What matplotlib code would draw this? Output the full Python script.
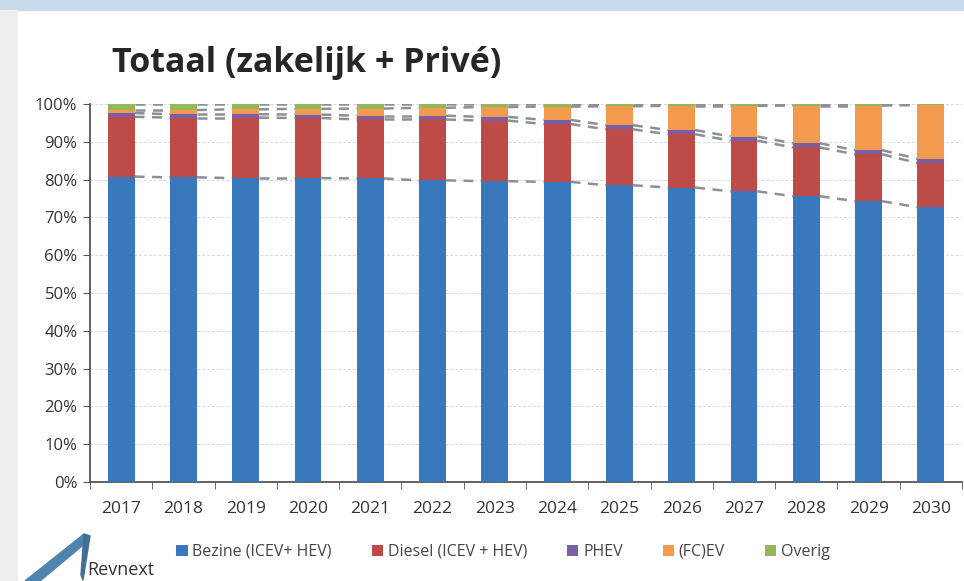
import matplotlib

matplotlib.use("Agg")
import matplotlib.pyplot as plt
import numpy as np
from matplotlib.patches import Polygon, Rectangle

plt.rcParams["font.family"] = ["Open Sans", "DejaVu Sans"]

years = ["2017", "2018", "2019", "2020", "2021", "2022", "2023",
         "2024", "2025", "2026", "2027", "2028", "2029", "2030"]
benzine = [80.8, 80.6, 80.4, 80.4, 80.3, 79.8, 79.6, 79.4, 78.5, 77.9, 76.9, 75.6, 74.3, 72.7]
diesel = [15.8, 15.8, 16.0, 15.9, 15.6, 16.1, 16.0, 15.3, 14.8, 14.1, 13.4, 12.9, 12.4, 11.7]
phev = [1.0, 0.9, 0.9, 0.9, 1.0, 1.0, 1.0, 1.1, 1.1, 1.1, 1.1, 1.1, 1.1, 1.1]
fcev = [0.8, 1.1, 1.3, 1.5, 1.9, 2.1, 2.6, 3.5, 5.0, 6.4, 8.1, 10.0, 11.8, 14.2]
overig = [1.6, 1.6, 1.4, 1.3, 1.2, 1.0, 0.8, 0.7, 0.6, 0.5, 0.5, 0.4, 0.4, 0.3]

series = [
    ("Bezine (ICEV+ HEV)", benzine, "#3a78bd"),
    ("Diesel (ICEV + HEV)", diesel, "#bd4b48"),
    ("PHEV", phev, "#7a5fa8"),
    ("(FC)EV", fcev, "#f39a4f"),
    ("Overig", overig, "#93b85a"),
]

fig = plt.figure(figsize=(9.64, 5.81), dpi=100)
fig.patch.set_facecolor("white")
# photo border: blue band on top, grey strip on the left
fig.patches.append(Rectangle((0, 0.982), 1, 0.018, transform=fig.transFigure,
                             color="#c7dbeb", zorder=0))
fig.patches.append(Rectangle((0, 0), 0.018, 0.982, transform=fig.transFigure,
                             color="#eceff2", zorder=0))

ax = fig.add_axes([90 / 964, 1 - 482 / 581, 872 / 964, 378 / 581])
x = np.arange(len(years))
width = 0.43
bottom = np.zeros(len(years))
tops = []
for label, vals, color in series:
    vals = np.array(vals) / 100
    ax.bar(x, vals, width, bottom=bottom, color=color, label=label, zorder=3)
    bottom = bottom + vals
    tops.append(bottom.copy())

# series lines between bars
for top in tops:
    for i in range(len(years) - 1):
        ax.plot([x[i] + width / 2, x[i + 1] - width / 2], [top[i], top[i + 1]],
                color="#8a9097", linestyle=(0, (4, 3)), linewidth=1.8, zorder=2)

ax.set_xlim(-0.5, len(years) - 0.5)
ax.set_ylim(0, 1)
ax.set_yticks(np.arange(0, 1.01, 0.1))
ax.set_yticklabels([f"{int(v)}%" for v in np.arange(0, 101, 10)], fontsize=12, color="#333333")
ax.set_xticks(x)
ax.set_xticklabels(years, fontsize=12.5, color="#333333")
ax.set_xticks(np.arange(-0.5, len(years)), minor=True)
ax.tick_params(axis="x", which="major", length=0, pad=14)
ax.tick_params(axis="x", which="minor", length=5, color="#555555", direction="out")
ax.tick_params(axis="y", length=5, color="#555555", direction="out", pad=4)
ax.grid(axis="y", color="#d9d9d9", linestyle=(0, (3, 2)), linewidth=0.7, zorder=0)
for side in ["top", "right"]:
    ax.spines[side].set_visible(False)
ax.spines["left"].set_color("#555555")
ax.spines["bottom"].set_color("#555555")
ax.spines["left"].set_linewidth(1.3)
ax.spines["bottom"].set_linewidth(1.3)

fig.text(112 / 964, 1 - 63 / 581, "Totaal (zakelijk + Privé)", fontsize=24.5,
         fontweight="bold", color="#262626", va="center", ha="left")

handles, labels = ax.get_legend_handles_labels()
fig.legend(handles, labels, loc="center", bbox_to_anchor=(503 / 964, 1 - 552 / 581),
           ncol=5, frameon=False, fontsize=11.5, handlelength=0.7, handleheight=0.7,
           columnspacing=2.5, handletextpad=0.3, labelcolor="#444444")

# logo
fig.patches.append(Polygon([[25 / 964, 0], [84 / 964, 1 - 534 / 581], [82 / 964, 1 - 546 / 581],
                            [40 / 964, 0]], closed=True, transform=fig.transFigure,
                           color="#4f84ad", zorder=5))
fig.patches.append(Polygon([[84 / 964, 1 - 534 / 581], [90 / 964, 1 - 536 / 581],
                            [83 / 964, 1 - 580 / 581], [81 / 964, 1 - 575 / 581]], closed=True,
                           transform=fig.transFigure, color="#3f6f95", zorder=5))
fig.text(87 / 964, 1 - 570 / 581, "Revnext", fontsize=13, color="#333333", va="center", ha="left")

fig.savefig("out.png", dpi=100)
